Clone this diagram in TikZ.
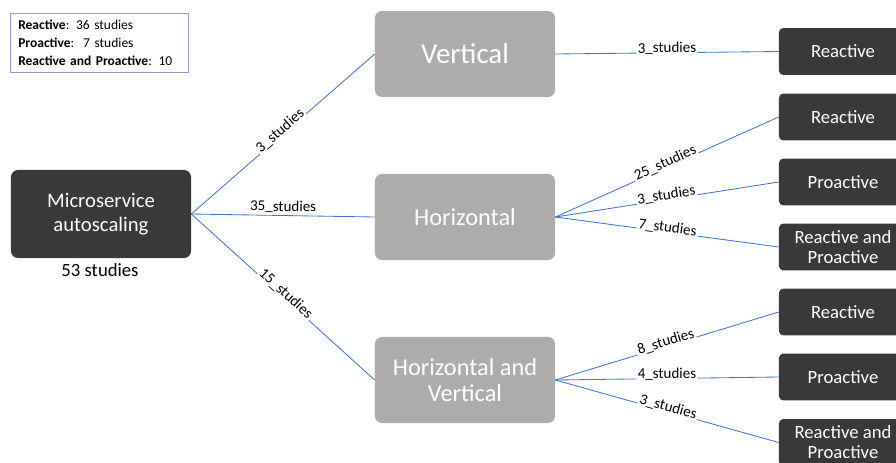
\documentclass[tikz,border=0pt]{standalone}
\usepackage{fontspec}
\setmainfont{Carlito}
\usepackage{tikz}

\definecolor{boxdark}{HTML}{3A3838}
\definecolor{boxgrey}{HTML}{AEABAB}
\definecolor{linkblue}{HTML}{4472C4}
\definecolor{legendframe}{HTML}{8EA1C4}

\tikzset{
  link/.style={draw=linkblue, line width=0.6pt},
  studies/.style={sloped, fill=white, inner sep=1pt, anchor=base, text=black,
    font=\fontsize{10.7}{12}\selectfont},
  mainbox/.style={minimum width=4.5cm, minimum height=2.15cm, rounded corners=5pt},
  leafbox/.style={fill=boxdark, minimum width=3.2cm, minimum height=1.17cm,
    rounded corners=3pt, font=\fontsize{13.3}{14.2}\selectfont}
}

\begin{document}
\begin{tikzpicture}[x=0.025cm, y=-0.025cm]
  \useasboundingbox (0,0) rectangle (896,462);

  \begin{scope}[every node/.style={rectangle, text=white, align=center, inner sep=2pt}]
    \node[mainbox, fill=boxdark, minimum height=2.2cm,
      font=\fontsize{14.7}{17}\selectfont] (micro) at (101,214) {Microservice\\autoscaling};

    \node[mainbox, fill=boxgrey, font=\fontsize{20.5}{24}\selectfont] (vert) at (465,54) {Vertical};
    \node[mainbox, fill=boxgrey, font=\fontsize{17.3}{18.4}\selectfont] (horiz) at (465,217) {Horizontal};
    \node[mainbox, fill=boxgrey, font=\fontsize{17.3}{18.4}\selectfont] (both) at (465,380) {Horizontal and\\Vertical};

    % leaves of the vertical branch
    \node[leafbox] (vert_r) at (843,51.5) {Reactive};

    % leaves of the horizontal branch
    \node[leafbox] (horiz_r) at (843,117) {Reactive};
    \node[leafbox] (horiz_p) at (843,182) {Proactive};
    \node[leafbox] (horiz_rp) at (843,247) {Reactive and\\Proactive};

    % leaves of the combined branch
    \node[leafbox] (both_r) at (843,312) {Reactive};
    \node[leafbox] (both_p) at (843,377) {Proactive};
    \node[leafbox] (both_rp) at (843,442.5) {Reactive and\\Proactive};
  \end{scope}

  \node[draw=legendframe, anchor=north west, text width=4.05cm, inner xsep=0.2cm,
    inner ysep=3pt, minimum height=1.475cm, align=left,
    font=\fontsize{9.6}{12.8}\selectfont] (legend) at (10,13)
    {\textbf{Reactive}: 36 studies\\ \textbf{Proactive}:~~7 studies\\ \textbf{Reactive and Proactive}: 10};

  \node[font=\fontsize{13.3}{15}\selectfont] (total) at (100,270) {53 studies};

  \begin{scope}
    \path (micro.east) edge[link] node[studies] {3\_studies} (vert.west);
    \path (micro.east) edge[link] node[studies, yshift=3pt] {35\_studies} (horiz.west);
    \path (micro.east) edge[link] node[studies] {15\_studies} (both.west);

    \path (vert.east) edge[link] node[studies] {3\_studies} (vert_r.west);

    \path (horiz.east) edge[link] node[studies] {25\_studies} (horiz_r.west);
    \path (horiz.east) edge[link] node[studies] {3\_studies} (horiz_p.west);
    \path (horiz.east) edge[link] node[studies] {7\_studies} (horiz_rp.west);

    \path (both.east) edge[link] node[studies] {8\_studies} (both_r.west);
    \path (both.east) edge[link] node[studies] {4\_studies} (both_p.west);
    \path (both.east) edge[link] node[studies] {3\_studies} (both_rp.west);
  \end{scope}
\end{tikzpicture}
\end{document}
